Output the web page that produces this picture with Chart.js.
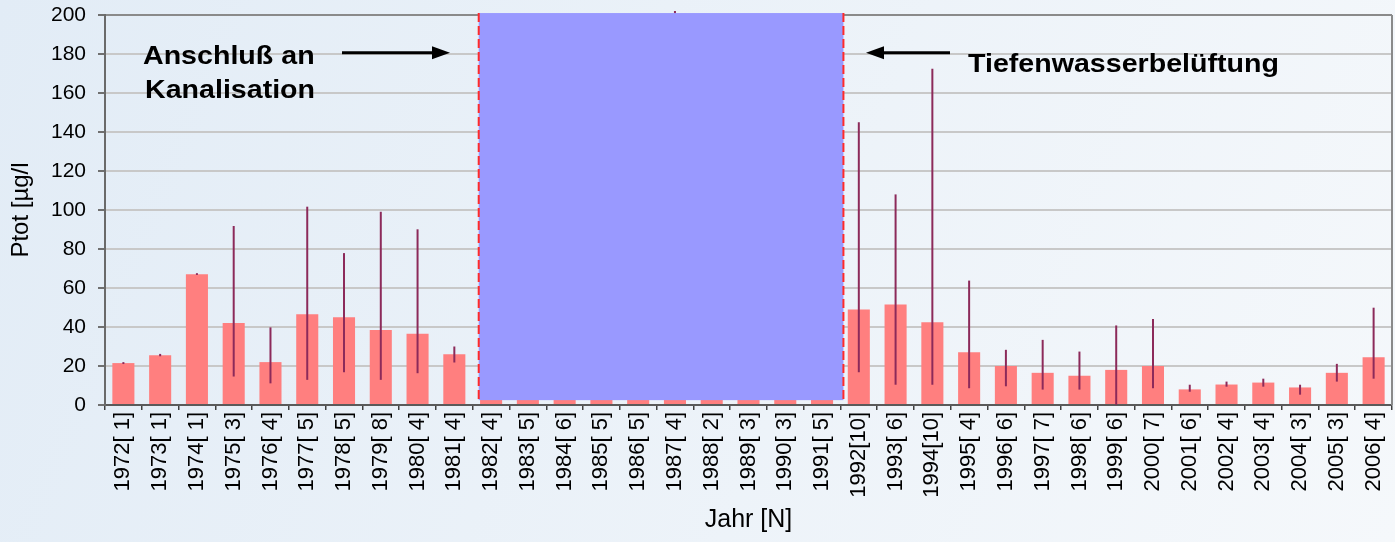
<!DOCTYPE html>
<html>
<head>
<meta charset="utf-8">
<script src="https://cdn.jsdelivr.net/npm/chart.js@4.4.0/dist/chart.umd.min.js"></script>
<style>
  html, body { margin: 0; padding: 0; background: #eaf1f8; }
  #wrap { width: 1395px; height: 542px; }
</style>
</head>
<body>
<div id="wrap"><canvas id="c" width="1395" height="542"></canvas></div>
<script>
// years and number of samples [N]
var years  = [1972,1973,1974,1975,1976,1977,1978,1979,1980,1981,
              1982,1983,1984,1985,1986,1987,1988,1989,1990,1991,
              1992,1993,1994,1995,1996,1997,1998,1999,2000,2001,
              2002,2003,2004,2005,2006];
var counts = [1,1,1,3,4,5,5,8,4,4,
              4,5,6,5,5,4,2,3,3,5,
              10,6,10,4,6,7,6,6,7,6,
              4,4,3,3,4];
// mean Ptot and min / max (error bar ends); 1982-1991 is hidden under the box
var means  = [21.5,25.5,67,42,22,46.5,45,38.5,36.5,26,
              38,42,47,44,55,60,50,45,40,43,
              49,51.5,42.5,27,20,16.5,15,18,20,8,
              10.5,11.5,9,16.5,24.5];
var lows   = [21,25,66.7,14.6,11.1,12.9,16.8,12.9,16.3,21.8,
              10,12,15,14,18,20,15,12,10,12,
              16.8,10.4,10.4,8.6,9.6,7.9,7.9,0,8.6,6.8,
              9.4,9.4,5.3,12,13.5];
var highs  = [22,26.2,67.6,91.8,39.8,101.7,77.9,99.1,90.1,30,
              90,110,120,100,150,202,130,95,85,100,
              145,108,172.5,63.8,28.3,33.4,27.4,40.8,44.1,10.4,
              12,13.5,10.4,21.1,49.9];
var yTicks = [0,20,40,60,80,100,120,140,160,180,200];
var shadeFrom = 10, shadeTo = 19;   // 1982 .. 1991

var labels = years.map(function (y, i) {
  var n = String(counts[i]);
  if (n.length < 2) n = ' ' + n;
  return y + '[' + n + ']';
});

var FONT = 'Liberation Sans, Arial, sans-serif';

var bgPlugin = {
  id: 'bg',
  beforeDraw: function (chart) {
    var ctx = chart.ctx;
    var g = ctx.createLinearGradient(0, 0, chart.width, chart.height);
    g.addColorStop(0, '#e2ecf6');
    g.addColorStop(1, '#f5f8fb');
    ctx.save();
    ctx.fillStyle = g;
    ctx.fillRect(0, 0, chart.width, chart.height);
    ctx.restore();
  }
};

var errPlugin = {
  id: 'errbars',
  afterDatasetsDraw: function (chart) {
    var ctx = chart.ctx, ys = chart.scales.y;
    var meta = chart.getDatasetMeta(0);
    ctx.save();
    ctx.strokeStyle = '#8c2a5a';
    ctx.lineWidth = 2;
    meta.data.forEach(function (bar, i) {
      ctx.beginPath();
      ctx.moveTo(bar.x, ys.getPixelForValue(lows[i]));
      ctx.lineTo(bar.x, ys.getPixelForValue(highs[i]));
      ctx.stroke();
    });
    ctx.restore();
  }
};

function arrow(ctx, x1, x2, y) {
  var dir = x2 > x1 ? 1 : -1;
  ctx.beginPath();
  ctx.moveTo(x1, y);
  ctx.lineTo(x2 - dir * 14, y);
  ctx.stroke();
  ctx.beginPath();
  ctx.moveTo(x2, y);
  ctx.lineTo(x2 - dir * 18, y - 6.5);
  ctx.lineTo(x2 - dir * 18, y + 6.5);
  ctx.closePath();
  ctx.fill();
}

function wideText(ctx, txt, x, y) {
  ctx.save();
  ctx.translate(x, y);
  ctx.scale(1.1, 1);
  ctx.fillText(txt, 0, 0);
  ctx.restore();
}

var boxPlugin = {
  id: 'box',
  afterDatasetsDraw: function (chart) {
    var ctx = chart.ctx, xs = chart.scales.x, ys = chart.scales.y, ca = chart.chartArea;
    var x1 = xs.getPixelForValue(shadeFrom - 0.5) + 6;
    var x2 = xs.getPixelForValue(shadeTo + 0.5) + 3;
    var y1 = ys.getPixelForValue(201);
    var y2 = ys.getPixelForValue(2.5);
    ctx.save();
    ctx.fillStyle = '#9999ff';
    ctx.fillRect(x1, y1, x2 - x1, y2 - y1);
    ctx.strokeStyle = '#ff2a2a';
    ctx.lineWidth = 2;
    ctx.setLineDash([9, 4]);
    [x1, x2].forEach(function (x) {
      ctx.beginPath();
      ctx.moveTo(x, y1);
      ctx.lineTo(x, y2);
      ctx.stroke();
    });
    ctx.setLineDash([]);

    // right frame of the plot
    ctx.strokeStyle = '#8a8a8a';
    ctx.beginPath();
    ctx.moveTo(ca.right, ca.top);
    ctx.lineTo(ca.right, ca.bottom);
    ctx.stroke();

    // annotations
    ctx.fillStyle = '#000';
    ctx.strokeStyle = '#000';
    ctx.lineWidth = 3;
    ctx.font = 'bold 26px ' + FONT;
    ctx.textBaseline = 'alphabetic';
    wideText(ctx, 'Anschluß an', ca.left + 38, 64);
    wideText(ctx, 'Kanalisation', ca.left + 40, 98);
    wideText(ctx, 'Tiefenwasserbelüftung', ca.left + 863, 72);
    var ay = ys.getPixelForValue(180.7);
    arrow(ctx, ca.left + 237, ca.left + 345, ay);
    arrow(ctx, ca.left + 845, ca.left + 761, ay);
    ctx.restore();
  }
};

new Chart(document.getElementById('c'), {
  type: 'bar',
  data: {
    labels: labels,
    datasets: [{
      label: 'Ptot',
      data: means,
      backgroundColor: '#ff7f7f',
      borderWidth: 0,
      barPercentage: 0.6,
      categoryPercentage: 1.0
    }]
  },
  options: {
    responsive: false,
    animation: false,
    devicePixelRatio: 1,
    layout: { padding: { top: 15, right: 3, left: 0, bottom: 0 } },
    plugins: {
      legend: { display: false },
      tooltip: { enabled: false }
    },
    scales: {
      x: {
        grid: {
          offset: true,
          drawOnChartArea: false,
          drawTicks: true,
          tickLength: 5,
          color: '#404040',
          lineWidth: 1.5
        },
        border: { color: '#5a5a5a', width: 2 },
        ticks: {
          autoSkip: false,
          minRotation: 90,
          maxRotation: 90,
          padding: 2,
          color: '#000',
          font: { family: FONT, size: 22 }
        },
        title: {
          display: true,
          text: 'Jahr [N]',
          color: '#000',
          font: { family: FONT, size: 25 },
          padding: { top: 0, bottom: 7 }
        },
        afterFit: function (s) {
          s.height = 137;
          s.paddingLeft = 0;
          s.paddingRight = 0;
        }
      },
      y: {
        min: 0,
        max: 200,
        afterBuildTicks: function (s) {
          s.ticks = yTicks.map(function (v) { return { value: v }; });
        },
        grid: {
          color: function (c) { return c.tick && c.tick.value === 200 ? '#8a8a8a' : '#c8c8c8'; },
          lineWidth: 2,
          tickLength: 7,
          tickColor: '#707070'
        },
        border: { color: '#6a6a6a', width: 2 },
        ticks: {
          padding: 12,
          color: '#000',
          font: { family: FONT, size: 21 }
        },
        title: {
          display: true,
          text: 'Ptot [µg/l',
          color: '#000',
          font: { family: FONT, size: 24 },
          padding: { top: 7, bottom: 0 }
        },
        afterFit: function (s) {
          s.width = 105;
          s.paddingTop = 0;
          s.paddingBottom = 0;
        }
      }
    }
  },
  plugins: [bgPlugin, errPlugin, boxPlugin]
});
</script>
</body>
</html>
